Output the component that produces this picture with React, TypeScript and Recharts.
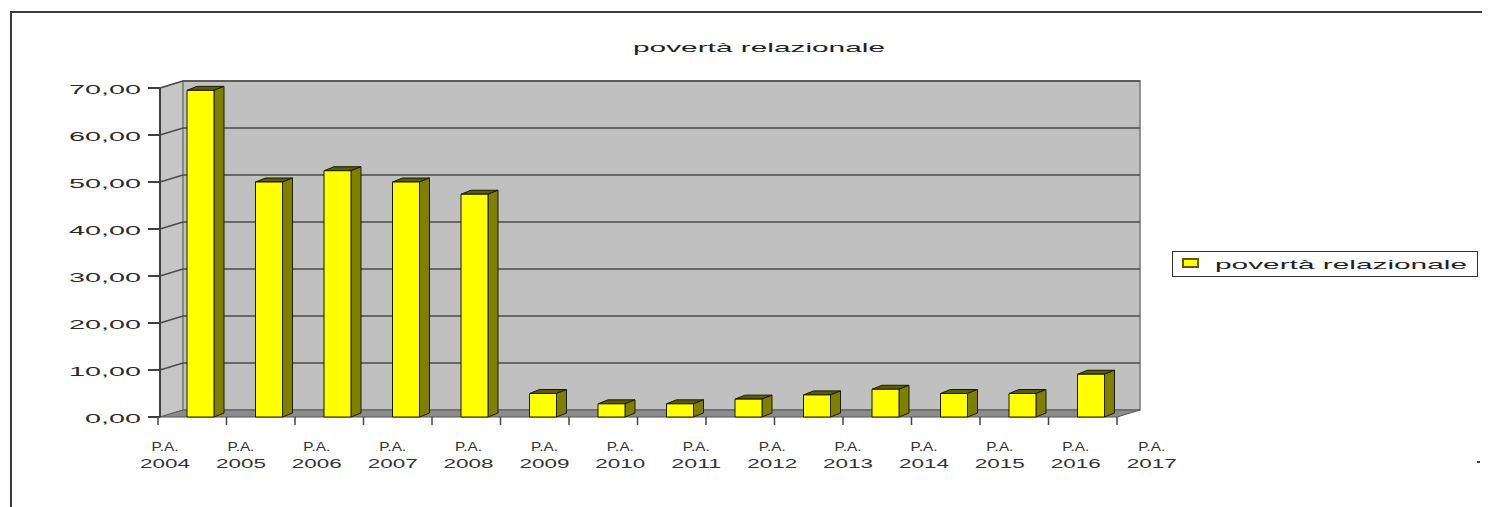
import { BarChart, Bar, XAxis, YAxis, Legend } from "recharts";

// chart data
const categories = ["2004", "2005", "2006", "2007", "2008", "2009", "2010", "2011", "2012", "2013", "2014", "2015", "2016", "2017"];
const values = [69.5, 50.0, 52.4, 50.0, 47.4, 5.0, 2.8, 2.8, 3.8, 4.7, 5.9, 5.0, 5.0, 9.1];
const yTicks = [0, 10, 20, 30, 40, 50, 60, 70];
const yTickLabels = ["0,00", "10,00", "20,00", "30,00", "40,00", "50,00", "60,00", "70,00"];
const catPrefix = "P.A.";
const seriesName = "povertà relazionale";
const title = "povertà relazionale";

const data = categories.map((c, i) => ({ cat: c, value: values[i] }));

if (typeof document !== "undefined") {
  document.body.style.overflow = "hidden";
}

// layout (px, relative to the chart box)
const W = 1482;
const H = 499;
const PL = 152;
const PR = 1132;
const PT = 80;
const PB = 409;
const PAD_L = 6;
const PAD_R = 15;
const DX = 23;
const DY = 7;
const BAND = (PR - PAD_R - (PL + PAD_L)) / categories.length;
const FONT = "'Liberation Sans', Arial, sans-serif";

const yPos = (v: number) => PT + ((70 - v) / 70) * (PB - PT);

function Bar3D(props: any) {
  const { x, y, width, height } = props;
  if (!height || height <= 0) return null;
  const dx = 10;
  const dy = 4;
  return (
    <g stroke="#1a1a00" strokeWidth={1} strokeLinejoin="round">
      <polygon
        points={`${x},${y} ${x + dx},${y - dy} ${x + width + dx},${y - dy} ${x + width},${y}`}
        fill="#5c5c00"
      />
      <polygon
        points={`${x + width},${y} ${x + width + dx},${y - dy} ${x + width + dx},${y + height - dy} ${x + width},${y + height}`}
        fill="#808000"
      />
      <rect x={x} y={y} width={width} height={height} fill="#ffff00" />
    </g>
  );
}

function YTick(props: any) {
  const { x, y, payload } = props;
  const idx = yTicks.indexOf(payload.value);
  const label = yTickLabels[idx] ?? String(payload.value);
  const len = label.length === 4 ? 56 : 72;
  return (
    <text
      x={x}
      y={y + 6}
      textAnchor="end"
      fontFamily={FONT}
      fontSize={13}
      fill="#2a2a2a"
      textLength={len}
      lengthAdjust="spacingAndGlyphs"
    >
      {label}
    </text>
  );
}

function XTick(props: any) {
  const { x, y, payload, index } = props;
  const firstCenter = PL + PAD_L + BAND / 2;
  const lx = 157 + (x - firstCenter) * 1.108;
  const tickX = x - BAND / 2 - 8;
  const last = index === categories.length - 1;
  return (
    <g>
      <line x1={tickX} y1={y} x2={tickX} y2={y + 8} stroke="#444" strokeWidth={1.5} />
      {last && <line x1={tickX + BAND} y1={y} x2={tickX + BAND} y2={y + 8} stroke="#444" strokeWidth={1.5} />}
      <text x={lx} y={y + 34} textAnchor="middle" fontFamily={FONT} fontSize={12} fill="#333" textLength={27} lengthAdjust="spacingAndGlyphs">
        {catPrefix}
      </text>
      <text x={lx} y={y + 51} textAnchor="middle" fontFamily={FONT} fontSize={13} fill="#333" textLength={50} lengthAdjust="spacingAndGlyphs">
        {payload.value}
      </text>
    </g>
  );
}

function LegendBox() {
  return (
    <svg width={306} height={26} style={{ display: "block" }}>
      <rect x={0.5} y={0.5} width={305} height={25} fill="#fff" stroke="#333" strokeWidth={1} />
      <rect x={11} y={8} width={15} height={8} fill="#ffff00" stroke="#5c5c00" strokeWidth={2} />
      <text x={43} y={18} fontFamily={FONT} fontSize={13} fill="#222" textLength={252} lengthAdjust="spacingAndGlyphs">
        {seriesName}
      </text>
    </svg>
  );
}

function Walls() {
  return (
    <svg width={W} height={H} style={{ position: "absolute", left: 0, top: 0 }}>
      <text x={625} y={44} fontFamily={FONT} fontSize={13} fill="#222" textLength={252} lengthAdjust="spacingAndGlyphs">
        {title}
      </text>
      {/* side wall */}
      <polygon points={`${PL},${PT} ${PL + DX},${PT - DY} ${PL + DX},${PB - DY} ${PL},${PB}`} fill="#c6c6c6" stroke="#8a8a8a" />
      {/* back wall */}
      <rect x={PL + DX} y={PT - DY} width={PR - PL - DX} height={PB - PT} fill="#c0c0c0" stroke="#7a7a7a" strokeWidth={1.5} />
      {yTicks.filter((v) => v > 0).map((v) => (
        <g key={v} stroke="#4a4a4a" strokeWidth={1.4} fill="none">
          <line x1={PL} y1={yPos(v)} x2={PL + DX} y2={yPos(v) - DY} />
          <line x1={PL + DX} y1={yPos(v) - DY} x2={PR} y2={yPos(v) - DY} />
        </g>
      ))}
      {/* floor */}
      <polygon points={`${PL},${PB} ${PL + DX},${PB - DY} ${PR},${PB - DY} ${PR - DX},${PB}`} fill="#8c8c8c" stroke="#555" />
      <rect x={1469} y={453} width={3} height={2} fill="#444" />
    </svg>
  );
}

export default function App() {
  return (
    <div style={{ position: "relative", width: W, height: H, background: "#fff" }}>
      <div
        style={{
          position: "absolute",
          left: 2,
          top: 3,
          width: W - 2,
          height: H - 3,
          borderLeft: "2px solid #3a3a3a",
          borderTop: "2px solid #3a3a3a",
          boxSizing: "border-box",
        }}
      />
      <Walls />
      <div style={{ position: "absolute", left: 0, top: 0 }}>
        <BarChart width={W} height={H} data={data} margin={{ top: PT, right: W - PR, bottom: 0, left: 0 }} barSize={27}>
          <XAxis
            dataKey="cat"
            interval={0}
            height={H - PB}
            tickSize={0}
            tickMargin={0}
            axisLine={false}
            tickLine={false}
            padding={{ left: PAD_L, right: PAD_R }}
            tick={<XTick />}
          />
          <YAxis
            domain={[0, 70]}
            ticks={yTicks}
            width={PL}
            tickSize={12}
            tickMargin={7}
            axisLine={{ stroke: "#404040", strokeWidth: 2 }}
            tickLine={{ stroke: "#404040", strokeWidth: 2 }}
            tick={<YTick />}
            allowDecimals
          />
          <Legend
            layout="vertical"
            align="center"
            verticalAlign="middle"
            wrapperStyle={{ left: 1164, top: 243, width: 306 }}
            content={() => <LegendBox />}
          />
          <Bar dataKey="value" name={seriesName} shape={<Bar3D />} isAnimationActive={false} />
        </BarChart>
      </div>
    </div>
  );
}
